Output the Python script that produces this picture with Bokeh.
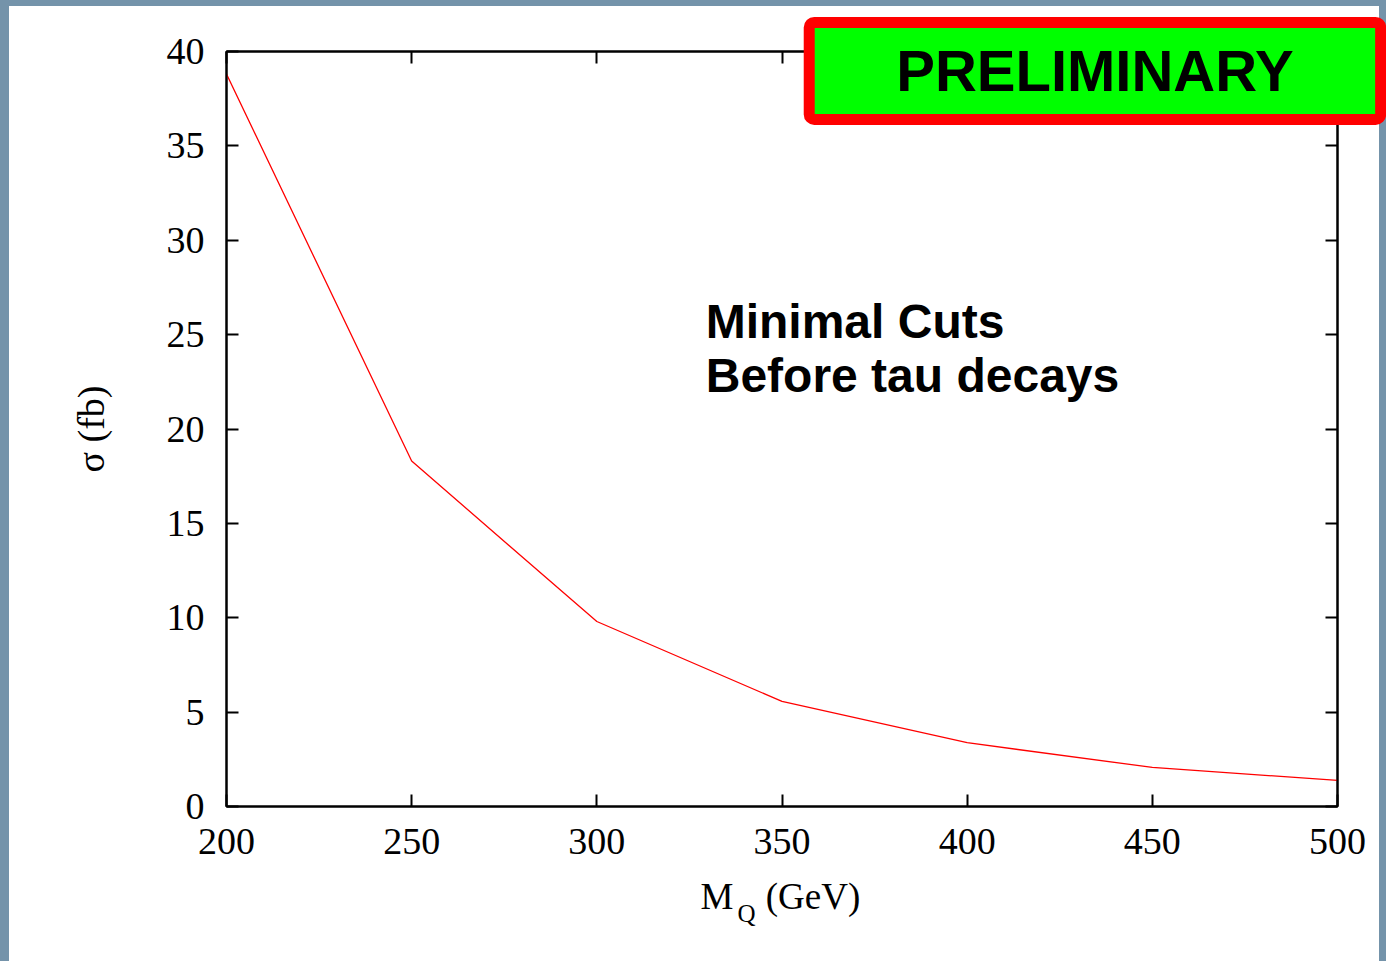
from bokeh.plotting import figure
from bokeh.layouts import column
from bokeh.models import Range1d, FixedTicker, LinearAxis, Label, CustomJSTickFormatter
from bokeh.embed import file_html
from bokeh.resources import INLINE

# ---- data ----
mass = [200, 250, 300, 350, 400, 450, 500]
sigma = [38.8, 18.3, 9.8, 5.57, 3.38, 2.07, 1.38]
x_ticks = [200, 250, 300, 350, 400, 450, 500]
y_ticks = [0, 5, 10, 15, 20, 25, 30, 35, 40]

W, H = 1386, 961
ML, MR, MT, MB = 226, 49, 51, 155
X0, X1, Y0, Y1 = 200, 500, 0, 40

p = figure(width=W, height=H, output_backend="svg", toolbar_location=None,
           x_range=Range1d(X0, X1), y_range=Range1d(Y0, Y1),
           min_border_left=ML, min_border_right=MR, min_border_top=MT, min_border_bottom=MB,
           x_axis_location=None, y_axis_location=None)
p.border_fill_color = None
p.background_fill_color = "white"
p.outline_line_color = "black"
p.outline_line_width = 2
p.grid.visible = False
p.styles = {"background": "linear-gradient(#ffffff,#ffffff) 9px 6px / 1370px 955px no-repeat, #7493aa"}

SERIF = "Liberation Serif"

def style_axis(ax, show_labels):
    ax.axis_line_color = "black"
    ax.axis_line_width = 2
    ax.major_tick_line_color = "black"
    ax.major_tick_line_width = 2
    ax.major_tick_in = 12
    ax.major_tick_out = 0
    ax.minor_tick_line_color = None
    ax.major_label_text_font = SERIF
    ax.major_label_text_font_size = "38px"
    ax.major_label_text_color = "black"
    if not show_labels:
        ax.formatter = CustomJSTickFormatter(code="return ''")
        ax.major_label_text_font_size = "1px"

xb = LinearAxis(ticker=FixedTicker(ticks=x_ticks))
style_axis(xb, True)
xb.major_label_standoff = 22
p.add_layout(xb, "below")

yl = LinearAxis(ticker=FixedTicker(ticks=y_ticks))
style_axis(yl, True)
yl.major_label_standoff = 22
yl.axis_label = "σ (fb)"
yl.axis_label_text_font = SERIF
yl.axis_label_text_font_size = "38px"
yl.axis_label_text_font_style = "normal"
yl.axis_label_text_color = "black"
yl.axis_label_standoff = 52
p.add_layout(yl, "left")

xt = LinearAxis(ticker=FixedTicker(ticks=x_ticks))
style_axis(xt, False)
p.add_layout(xt, "above")

yr = LinearAxis(ticker=FixedTicker(ticks=y_ticks))
style_axis(yr, False)
p.add_layout(yr, "right")

p.line(mass, sigma, line_color="#ff0000", line_width=1.3)

# ---- transparent overlay figure sharing the same data coordinates over the whole canvas ----
sx = (X1 - X0) / (W - ML - MR)
sy = (Y1 - Y0) / (H - MT - MB)
q = figure(width=W, height=H, output_backend="svg", toolbar_location=None,
           x_range=Range1d(X0 - ML * sx, X1 + MR * sx), y_range=Range1d(Y0 - MB * sy, Y1 + MT * sy),
           min_border=0, x_axis_location=None, y_axis_location=None)
q.border_fill_color = None
q.background_fill_color = None
q.outline_line_color = None
q.grid.visible = False
q.margin = (-H, 0, 0, 0)
for fig in (p, q):
    if "frame_align" in fig.properties():
        fig.frame_align = False

# x axis label with subscript
for txt, x, y, size in [("M", 328.0, -4.77, "37px"), ("Q", 338.0, -5.67, "25px"), ("(GeV)", 345.6, -4.77, "37px")]:
    q.add_layout(Label(x=x, y=y, text=txt, text_font=SERIF, text_font_size=size,
                       text_align="left", text_baseline="alphabetic", text_color="black"))

# annotation text
for txt, y in [("Minimal Cuts", 25.70), ("Before tau decays", 22.84)]:
    q.add_layout(Label(x=329.4, y=y, text=txt, text_font="Liberation Sans", text_font_size="48px",
                       text_font_style="bold", text_align="left", text_baseline="alphabetic",
                       text_color="black"))

# PRELIMINARY box
q.add_layout(Label(x=434.5, y=38.97, text="PRELIMINARY", text_font="Liberation Sans",
                   text_font_size="58px", text_font_style="bold", text_align="center",
                   text_baseline="middle", text_color="black",
                   background_fill_color="#00ff00", border_line_color="#ff0000",
                   border_line_width=11, padding=(87, 16), border_radius=5))

layout = column(p, q, spacing=0)
open("out.html", "w").write(file_html(layout, INLINE))
